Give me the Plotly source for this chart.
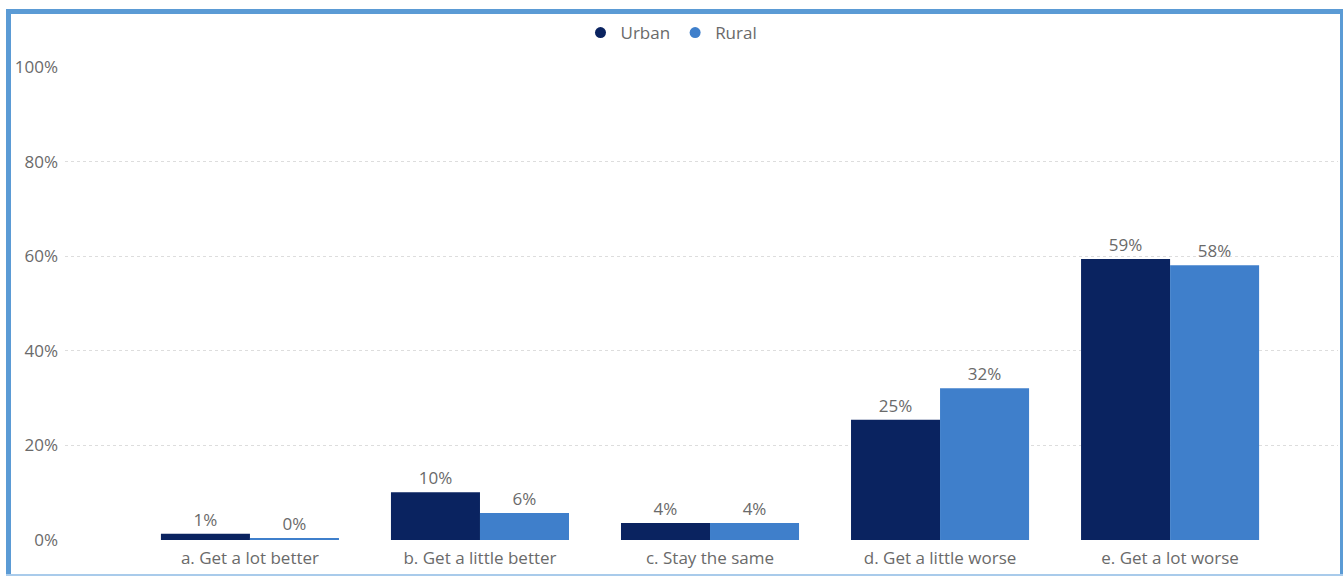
import plotly.graph_objects as go

# Survey responses: expected change, by area
categories = [
    "a. Get a lot better",
    "b. Get a little better",
    "c. Stay the same",
    "d. Get a little worse",
    "e. Get a lot worse",
]
urban = [0.013, 0.101, 0.036, 0.254, 0.594]
rural = [0.003, 0.057, 0.036, 0.321, 0.581]
y_ticks = [0, 0.2, 0.4, 0.6, 0.8, 1.0]
y_tick_labels = ["0%", "20%", "40%", "60%", "80%", "100%"]

URBAN_COLOR = "#0A2360"
RURAL_COLOR = "#3F7FCB"
FRAME_COLOR = "#5B9BD5"
TEXT_COLOR = "#6A6A6A"
FONT = "Open Sans, Noto Sans, sans-serif"
FS = 17

W, H = 1343, 577
ML, MR, MT, MB = 65, 5, 67, 37

fig = go.Figure()
for name, vals, color in [("Urban", urban, URBAN_COLOR), ("Rural", rural, RURAL_COLOR)]:
    fig.add_trace(go.Bar(
        x=categories, y=vals, name=name, marker=dict(color=color, line=dict(width=0)),
        text=vals, texttemplate="%{y:.0%}", textposition="outside",
        textfont=dict(color=TEXT_COLOR, size=FS, family=FONT),
        cliponaxis=False, showlegend=False,
    ))
    # circle legend entries
    fig.add_trace(go.Scatter(
        x=[None], y=[None], mode="markers", name=name,
        marker=dict(color=color, size=11, symbol="circle"), showlegend=True,
    ))


def px_x(px):
    return (px - ML) / (W - ML - MR)


def px_y(py):
    return (H - MB - py) / (H - MT - MB)


# blue frame around the visual
frame = [
    (6, 9, 11, 575),      # left
    (6, 9, 1343, 14),     # top
    (1340, 9, 1343, 575),  # right
    (6, 574, 1343, 576),  # bottom
]
shapes = []
for i, (x0, y0, x1, y1) in enumerate(frame):
    shapes.append(dict(
        type="rect", xref="paper", yref="paper", layer="above",
        x0=px_x(x0), x1=px_x(x1), y0=px_y(y1), y1=px_y(y0),
        fillcolor="#A9CBEB" if i == 3 else FRAME_COLOR, line=dict(width=0),
    ))

fig.update_layout(
    width=W, height=H,
    margin=dict(l=ML, r=MR, t=MT, b=MB, autoexpand=False),
    paper_bgcolor="white", plot_bgcolor="white",
    barmode="group", bargap=0.226, bargroupgap=0,
    font=dict(family=FONT, size=FS, color=TEXT_COLOR),
    legend=dict(
        orientation="h", x=0.5, xanchor="center", xref="container",
        y=1 - 33 / H, yanchor="middle", yref="container",
        font=dict(size=FS, color=TEXT_COLOR, family=FONT),
        itemwidth=30, traceorder="normal", itemclick=False,
        bgcolor="rgba(0,0,0,0)",
    ),
    shapes=shapes,
    xaxis=dict(
        range=[-0.804, 4.73], showgrid=False, showline=False, ticks="",
        tickfont=dict(size=FS, color=TEXT_COLOR), zeroline=False,
        tickangle=0, automargin=False, ticklabelstandoff=6,
    ),
    yaxis=dict(
        range=[0, 1.0], tickvals=y_ticks, ticktext=y_tick_labels,
        showgrid=True, gridcolor="#DDDDDD", griddash="dot", gridwidth=1,
        zeroline=False, showline=False, ticks="",
        tickfont=dict(size=FS, color=TEXT_COLOR), automargin=False,
        ticklabelstandoff=6,
    ),
)

fig.write_html("out.html")
